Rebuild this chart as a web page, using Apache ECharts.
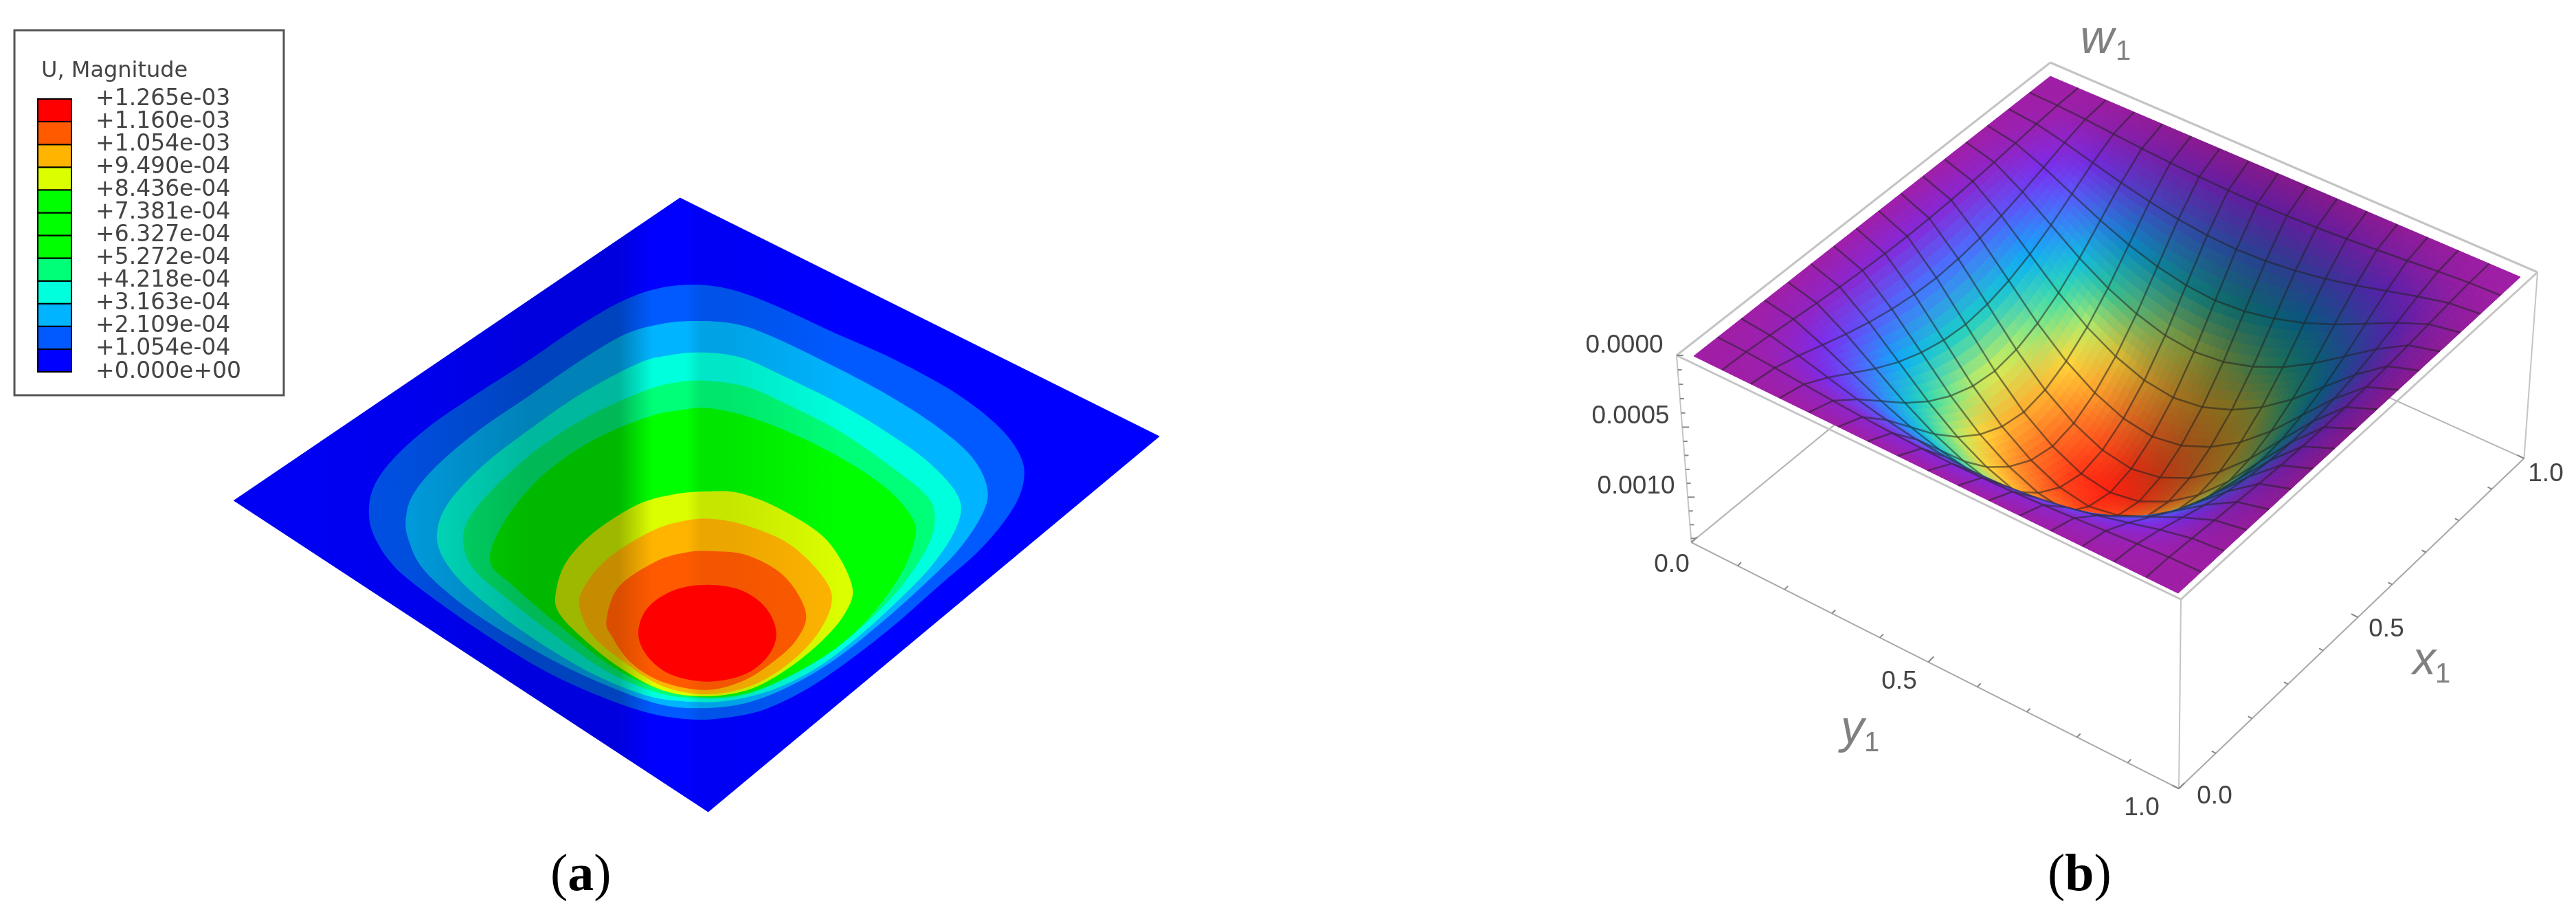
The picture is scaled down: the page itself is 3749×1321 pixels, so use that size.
<!DOCTYPE html>
<html>
<head>
<meta charset="utf-8">
<script src="https://cdn.jsdelivr.net/npm/echarts@6/dist/echarts.min.js"></script>
<style>
  html, body { margin: 0; padding: 0; background: #fff; }
  #chart { width: 3749px; height: 1321px; }
</style>
</head>
<body>
<div id="chart"></div>
<script>
// Legend of panel (a)
const legendLabels = ['+0.000e+00', '+1.054e-04', '+2.109e-04', '+3.163e-04', '+4.218e-04', '+5.272e-04',
  '+6.327e-04', '+7.381e-04', '+8.436e-04', '+9.490e-04', '+1.054e-03', '+1.160e-03', '+1.265e-03'];
const legendColors = ['#0000ff', '#005aff', '#00b4ff', '#00ffdc', '#00ff78', '#00ff00',
  '#00ff00', '#00ff00', '#dcff00', '#ffb400', '#ff5a00', '#ff0000'];

// Panel (a): plate outline and contour bands in view units
const plateOutline = [[750, 45], [1532, 612], [796, 1505], [22, 765]];
const contourBlue = [[770, 252], [830, 262], [900, 298], [1000, 365], [1100, 430], [1200, 510], [1270, 590], [1305, 660], [1310, 720], [1290, 790], [1240, 880], [1170, 970], [1100, 1060], [1030, 1140], [960, 1210], [890, 1260], [830, 1280], [770, 1285], [700, 1270], [620, 1230], [530, 1170], [440, 1090], [360, 1010], [290, 930], [255, 860], [243, 800], [250, 735], [280, 670], [340, 590], [420, 510], [500, 435], [580, 355], [650, 295], [710, 262]];
const contourSky = [[775, 338], [840, 345], [900, 375], [1000, 445], [1090, 515], [1170, 590], [1225, 660], [1250, 730], [1245, 790], [1205, 880], [1140, 975], [1070, 1065], [1000, 1145], [930, 1205], [860, 1245], [790, 1258], [720, 1250], [640, 1210], [550, 1150], [460, 1075], [385, 1000], [330, 925], [308, 860], [303, 810], [315, 750], [355, 680], [420, 600], [510, 510], [590, 430], [660, 370], [720, 345]];
const contourCyan = [[785, 413], [850, 425], [920, 470], [1010, 535], [1090, 605], [1160, 680], [1205, 760], [1200, 830], [1160, 920], [1100, 1010], [1035, 1095], [970, 1165], [900, 1215], [830, 1240], [770, 1243], [700, 1230], [620, 1185], [540, 1120], [460, 1040], [395, 960], [360, 890], [355, 830], [375, 765], [430, 680], [510, 590], [590, 510], [680, 440], [730, 420]];
const contourSpring = [[790, 480], [860, 495], [930, 540], [1010, 600], [1090, 680], [1150, 750], [1165, 800], [1155, 870], [1110, 970], [1050, 1060], [990, 1130], [920, 1190], [850, 1228], [780, 1235], [710, 1220], [630, 1170], [550, 1090], [470, 1000], [415, 930], [397, 870], [405, 810], [450, 730], [520, 640], [600, 565], [690, 505], [740, 485]];
const contourGreen = [[795, 545], [860, 565], [940, 610], [1020, 670], [1090, 740], [1130, 810], [1132, 860], [1110, 940], [1060, 1040], [1000, 1120], [930, 1180], [860, 1222], [790, 1232], [720, 1215], [640, 1160], [560, 1070], [480, 970], [440, 905], [470, 800], [530, 700], [610, 620], [700, 565], [750, 550]];
const contourYellow = [[795, 743], [850, 748], [920, 790], [990, 860], [1030, 965], [1020, 1030], [980, 1100], [920, 1170], [860, 1215], [790, 1230], [720, 1215], [650, 1160], [590, 1090], [552, 1030], [548, 980], [565, 910], [610, 840], [680, 775], [740, 750]];
const contourAmber = [[800, 808], [860, 825], [930, 870], [985, 950], [997, 1010], [970, 1090], [920, 1160], [860, 1208], [790, 1225], [720, 1205], [660, 1150], [610, 1090], [588, 1030], [590, 980], [630, 905], [700, 840], [750, 815]];
const contourOrange = [[800, 885], [860, 895], [920, 945], [955, 1030], [940, 1095], [900, 1150], [850, 1195], [790, 1215], [720, 1195], [670, 1150], [640, 1090], [630, 1050], [650, 970], [710, 910], [760, 888]];
const contourRed = [[795, 965], [850, 978], [890, 1020], [907, 1080], [893, 1135], [855, 1178], [795, 1195], [735, 1178], [697, 1135], [682, 1080], [697, 1020], [740, 978]];

// strength: how much of the lighting stripe shows on the band
const plateBands = [
  { points: plateOutline, color: '#0000ff', strength: 0.45 },
  { points: contourBlue, color: '#005aff', strength: 0.9 },
  { points: contourSky, color: '#00b4ff', strength: 1 },
  { points: contourCyan, color: '#00ffdc', strength: 1 },
  { points: contourSpring, color: '#00ff78', strength: 1 },
  { points: contourGreen, color: '#00ff00', strength: 1 },
  { points: contourYellow, color: '#dcff00', strength: 1 },
  { points: contourAmber, color: '#ffb400', strength: 0.8 },
  { points: contourOrange, color: '#ff5a00', strength: 0.5 },
  { points: contourRed, color: '#ff0000', strength: 0 }
];

// Panel (b): w1 at the mesh nodes in units of 1e-5, rows are x1 = 0..1, columns are y1 = 0..1
const wGrid = [
  [0, 0, 0, 0, 0, 0, 0, 0, 0, 0, 0, 0, 0, 0, 0, 0, 0],
  [0, 0.6, 2, 3.7, 5.3, 6.7, 7.8, 8.5, 8.8, 8.5, 7.8, 6.7, 5.3, 3.7, 2, 0.6, 0],
  [0, 2, 6.6, 12.1, 17.5, 22.1, 25.6, 27.9, 28.8, 27.9, 25.6, 22.1, 17.5, 12.1, 6.6, 2, 0],
  [0, 3.7, 12.1, 22.1, 32, 40.4, 46.7, 50.9, 52.5, 50.9, 46.7, 40.4, 32, 22.1, 12.1, 3.7, 0],
  [0, 5.3, 17.5, 32, 46.5, 58.7, 67.9, 74, 76.3, 74, 67.9, 58.7, 46.5, 32, 17.5, 5.3, 0],
  [0, 6.7, 22.1, 40.4, 58.7, 74.1, 85.7, 93.4, 96.3, 93.4, 85.7, 74.1, 58.7, 40.4, 22.1, 6.7, 0],
  [0, 7.8, 25.6, 46.7, 67.9, 85.7, 99, 107.9, 111.3, 107.9, 99, 85.7, 67.9, 46.7, 25.6, 7.8, 0],
  [0, 8.5, 27.9, 50.9, 74, 93.4, 107.9, 117.6, 121.3, 117.6, 107.9, 93.4, 74, 50.9, 27.9, 8.5, 0],
  [0, 8.8, 28.8, 52.5, 76.3, 96.3, 111.3, 121.3, 125, 121.3, 111.3, 96.3, 76.3, 52.5, 28.8, 8.8, 0],
  [0, 8.5, 27.9, 50.9, 74, 93.4, 107.9, 117.6, 121.3, 117.6, 107.9, 93.4, 74, 50.9, 27.9, 8.5, 0],
  [0, 7.8, 25.6, 46.7, 67.9, 85.7, 99, 107.9, 111.3, 107.9, 99, 85.7, 67.9, 46.7, 25.6, 7.8, 0],
  [0, 6.7, 22.1, 40.4, 58.7, 74.1, 85.7, 93.4, 96.3, 93.4, 85.7, 74.1, 58.7, 40.4, 22.1, 6.7, 0],
  [0, 5.3, 17.5, 32, 46.5, 58.7, 67.9, 74, 76.3, 74, 67.9, 58.7, 46.5, 32, 17.5, 5.3, 0],
  [0, 3.7, 12.1, 22.1, 32, 40.4, 46.7, 50.9, 52.5, 50.9, 46.7, 40.4, 32, 22.1, 12.1, 3.7, 0],
  [0, 2, 6.6, 12.1, 17.5, 22.1, 25.6, 27.9, 28.8, 27.9, 25.6, 22.1, 17.5, 12.1, 6.6, 2, 0],
  [0, 0.6, 2, 3.7, 5.3, 6.7, 7.8, 8.5, 8.8, 8.5, 7.8, 6.7, 5.3, 3.7, 2, 0.6, 0],
  [0, 0, 0, 0, 0, 0, 0, 0, 0, 0, 0, 0, 0, 0, 0, 0, 0]
];
const wMax = 125;
const wBoxBottom = 133;
const tickValues = [0, 0.1, 0.2, 0.3, 0.4, 0.5, 0.6, 0.7, 0.8, 0.9, 1];
const wTickValues = [0, 10, 20, 30, 40, 50, 60, 70, 80, 90, 100, 110, 120, 130];

// Colour ramp of the surface: w / wMax -> rgb
const ramp = [
  [0, [160, 30, 166]], [0.1, [122, 44, 240]], [0.22, [74, 112, 255]], [0.33, [8, 176, 248]],
  [0.45, [32, 216, 184]], [0.55, [128, 232, 136]], [0.64, [255, 240, 64]], [0.76, [255, 176, 48]],
  [0.9, [255, 96, 32]], [1, [255, 32, 16]]
];

function rampColor(t) {
  for (let n = 1; n < ramp.length; n++) {
    if (t <= ramp[n][0]) {
      const f = (t - ramp[n - 1][0]) / (ramp[n][0] - ramp[n - 1][0]);
      return ramp[n][1].map((c, k) => ramp[n - 1][1][k] + (c - ramp[n - 1][1][k]) * f);
    }
  }
  return ramp[ramp.length - 1][1];
}

// Perspective of the 3D box: corners given as (0,0), (1,0), (1,1), (0,1) in (x1, y1)
const vanish = [3090, 8739];
const kPerW = 0.03423 / wBoxBottom;

function makeProjector(p) {
  const [x0, y0] = p[0], [x1, y1] = p[1], [x2, y2] = p[2], [x3, y3] = p[3];
  const dx1 = x1 - x2, dx2 = x3 - x2, sx = x0 - x1 + x2 - x3;
  const dy1 = y1 - y2, dy2 = y3 - y2, sy = y0 - y1 + y2 - y3;
  const den = dx1 * dy2 - dx2 * dy1;
  const g = (sx * dy2 - dx2 * sy) / den, h = (dx1 * sy - sx * dy1) / den;
  return function (u, v, w) {
    const k = kPerW * w;
    const W = g * u + h * v + 1;
    const X = (x1 - x0 + g * x1) * u + (x3 - x0 + h * x3) * v + x0;
    const Y = (y1 - y0 + g * y1) * u + (y3 - y0 + h * y3) * v + y0;
    return [(X + k * vanish[0]) / (W + k), (Y + k * vanish[1]) / (W + k)];
  };
}

const surfacePoint = makeProjector([[2465, 518], [2984, 111], [3668, 403], [3170, 863]]);
const boxPoint = makeProjector([[2440, 517], [2984, 91], [3693, 396], [3174, 872]]);
const CELLS = wGrid.length - 1;

function nodeColor(i, j) {
  const up = wGrid[Math.min(i + 1, CELLS)][j], dn = wGrid[Math.max(i - 1, 0)][j];
  const rt = wGrid[i][Math.min(j + 1, CELLS)], lf = wGrid[i][Math.max(j - 1, 0)];
  // slope towards the right of the picture, the right wall sits in shadow
  const g = ((up - dn) / (i > 0 && i < CELLS ? 2 : 1) + (rt - lf) / (j > 0 && j < CELLS ? 2 : 1)) / 26;
  const shade = 1 - 0.5 * Math.min(1, Math.max(0, -g));
  return rampColor(wGrid[i][j] / wMax).map(c => c * shade);
}

// painter's order, far corner first
const surfaceCells = [];
for (let i = CELLS - 1; i >= 0; i--) {
  for (let j = 0; j < CELLS; j++) {
    surfaceCells.push([i, j]);
  }
}

function renderSurfaceCell(params, api) {
  const i = api.value(0), j = api.value(1);
  const nodes = [[i, j], [i + 1, j], [i + 1, j + 1], [i, j + 1]];
  const pts = nodes.map(n => api.coord(surfacePoint(n[0] / CELLS, n[1] / CELLS, wGrid[n[0]][n[1]])));
  const cols = nodes.map(n => nodeColor(n[0], n[1]));
  const children = [];
  const SUB = 5;
  const mix = (vals, a, b) => vals[0].map((_, k) =>
    vals[0][k] * (1 - a) * (1 - b) + vals[1][k] * a * (1 - b) + vals[2][k] * a * b + vals[3][k] * (1 - a) * b);
  for (let a = SUB - 1; a >= 0; a--) {
    for (let b = 0; b < SUB; b++) {
      const a0 = a / SUB, a1 = (a + 1) / SUB, b0 = b / SUB, b1 = (b + 1) / SUB;
      const c = mix(cols, (a0 + a1) / 2, (b0 + b1) / 2).map(Math.round);
      const fill = `rgb(${c[0]},${c[1]},${c[2]})`;
      children.push({
        type: 'polygon',
        shape: { points: [mix(pts, a0, b0), mix(pts, a1, b0), mix(pts, a1, b1), mix(pts, a0, b1)] },
        style: { fill: fill, stroke: fill, lineWidth: 1 }
      });
    }
  }
  // mesh lines on the two far sides, the near ones belong to the cells drawn later
  const mesh = { stroke: 'rgba(35,35,35,0.55)', lineWidth: 2.5, fill: 'none' };
  if (i + 1 < CELLS) {
    children.push({ type: 'polyline', shape: { points: [pts[1], pts[2]] }, style: mesh });
  }
  if (j > 0) {
    children.push({ type: 'polyline', shape: { points: [pts[0], pts[1]] }, style: mesh });
  }
  return { type: 'group', children: children };
}

// Box lines of panel (b), as [x0, y0, x1, y1, width, colour]
const backLines = [];
const frontLines = [];
function addLine(list, a, b, width, color) {
  list.push([a[0], a[1], b[0], b[1], width, color]);
}
const boxGrey = '#c4c4c4';
addLine(backLines, boxPoint(0, 0, wBoxBottom), boxPoint(1, 0, wBoxBottom), 2, '#b4b4b4');
addLine(backLines, boxPoint(1, 1, wBoxBottom), boxPoint(1, 0, wBoxBottom), 2, '#b4b4b4');
[[0, 0, 1, 0], [1, 0, 1, 1], [1, 1, 0, 1], [0, 1, 0, 0]].forEach(e => {
  addLine(frontLines, boxPoint(e[0], e[1], 0), boxPoint(e[2], e[3], 0), 3, boxGrey);
});
[[0, 0], [0, 1], [1, 1]].forEach(c => {
  addLine(frontLines, boxPoint(c[0], c[1], 0), boxPoint(c[0], c[1], wBoxBottom), 2, boxGrey);
});
addLine(frontLines, boxPoint(0, 0, wBoxBottom), boxPoint(0, 1, wBoxBottom), 2, '#a8a8a8');
addLine(frontLines, boxPoint(0, 1, wBoxBottom), boxPoint(1, 1, wBoxBottom), 2, '#a8a8a8');
tickValues.forEach((t, n) => {
  const len = n % 5 === 0 ? 1.6 : 1;
  const a = boxPoint(0, t, wBoxBottom), b = boxPoint(t, 1, wBoxBottom);
  addLine(frontLines, a, [a[0] + 5 * len, a[1] - 5 * len], 2, '#888888');
  addLine(frontLines, b, [b[0] - 6 * len, b[1] - 3 * len], 2, '#888888');
});
wTickValues.forEach((t, n) => {
  const a = boxPoint(0, 0, t);
  addLine(frontLines, a, [a[0] + (n % 5 === 0 ? 10 : 6), a[1]], 2, '#888888');
});

const lineColors = { back: backLines.map(l => l[5]), front: frontLines.map(l => l[5]) };
function renderLine(params, api) {
  const a = api.coord([api.value(0), api.value(1)]);
  const b = api.coord([api.value(2), api.value(3)]);
  return {
    type: 'line',
    shape: { x1: a[0], y1: a[1], x2: b[0], y2: b[1] },
    style: { stroke: lineColors[params.seriesName][params.dataIndex], lineWidth: api.value(4) }
  };
}

// Tick labels and axis names of panel (b)
const tickFont = '37px "Liberation Sans"';
const nameFont = 'italic 68px "Liberation Sans"';
const subFont = '40px "Liberation Sans"';
const surfaceTexts = [
  ['0.0000', 2364, 503, tickFont, '#444'], ['0.0005', 2373, 606, tickFont, '#444'], ['0.0010', 2381, 708, tickFont, '#444'],
  ['0.0', 2433, 822, tickFont, '#444'], ['0.5', 2764, 992, tickFont, '#444'], ['1.0', 3117, 1176, tickFont, '#444'],
  ['0.0', 3223, 1159, tickFont, '#444'], ['0.5', 3473, 916, tickFont, '#444'], ['1.0', 3705, 690, tickFont, '#444'],
  ['w', 3052, 58, nameFont, '#808080'], ['1', 3090, 76, subFont, '#808080'],
  ['x', 3528, 962, nameFont, '#808080'], ['1', 3555, 982, subFont, '#808080'],
  ['y', 2696, 1062, nameFont, '#808080'], ['1', 2724, 1082, subFont, '#808080']
];

// lighting across panel (a): [position across the view, brightness]
const plateShade = [[0, 0.92], [0.2, 0.85], [0.32, 0.72], [0.415, 0.72], [0.45, 1], [0.485, 1], [0.5, 0.9], [0.53, 0.9], [0.65, 1], [1, 1]];

// round the read contour points into a closed curve for drawing
function roundedOutline(points) {
  const out = [];
  const n = points.length;
  for (let i = 0; i < n; i++) {
    const p0 = points[(i + n - 1) % n], p1 = points[i], p2 = points[(i + 1) % n], p3 = points[(i + 2) % n];
    for (let s = 0; s < 8; s++) {
      const t = s / 8, t2 = t * t, t3 = t2 * t;
      out.push([0, 1].map(k => 0.5 * (2 * p1[k] + (p2[k] - p0[k]) * t +
        (2 * p0[k] - 5 * p1[k] + 4 * p2[k] - p3[k]) * t2 + (3 * p1[k] - p0[k] - 3 * p2[k] + p3[k]) * t3)));
    }
  }
  return out;
}

function renderPlateBand(params, api) {
  const band = plateBands[params.dataIndex];
  const base = echarts.color.parse(band.color);
  const stops = plateShade.map(s => {
    const f = 1 - (1 - s[1]) * band.strength;
    return {
      offset: s[0],
      color: `rgb(${Math.round(base[0] * f)},${Math.round(base[1] * f)},${Math.round(base[2] * f)})`
    };
  });
  const outline = params.dataIndex === 0 ? band.points : roundedOutline(band.points);
  return {
    type: 'polygon',
    shape: { points: outline.map(p => api.coord(p)) },
    style: { fill: new echarts.graphic.LinearGradient(320, 0, 1720, 0, stops, true) }
  };
}

function renderLegendCell(params, api) {
  const a = api.coord([0, api.value(0) + 1]);
  const b = api.coord([1, api.value(0)]);
  return {
    type: 'rect',
    shape: { x: a[0], y: a[1], width: b[0] - a[0], height: b[1] - a[1] },
    style: { fill: legendColors[params.dataIndex], stroke: '#000', lineWidth: 2 }
  };
}

const captionRich = {
  n: { fontFamily: 'Liberation Serif', fontSize: 76, fontWeight: 'normal', color: '#000' },
  b: { fontFamily: 'Liberation Serif', fontSize: 76, fontWeight: 'bold', color: '#000' }
};
const hiddenValue = { type: 'value', show: false };

const chart = echarts.init(document.getElementById('chart'), null, { renderer: 'canvas' });
chart.setOption({
  animation: false,
  backgroundColor: '#fff',
  title: [
    {
      text: 'U, Magnitude', left: 55, top: 83,
      textStyle: { fontFamily: 'DejaVu Sans', fontSize: 32, fontWeight: 'normal', color: '#444' }
    },
    { text: '{n|(}{b|a}{n|)}', left: 796, top: 1232, textStyle: { rich: captionRich } },
    { text: '{n|(}{b|b}{n|)}', left: 2975, top: 1232, textStyle: { rich: captionRich } }
  ],
  graphic: [{
    type: 'rect',
    shape: { x: 21, y: 44, width: 392, height: 531 },
    style: { fill: 'none', stroke: '#555', lineWidth: 3 }
  }],
  grid: [
    { left: 320, top: 260, width: 1400, height: 960 },
    { left: 55, top: 144, width: 49, height: 397 },
    { left: 0, top: 0, width: 3749, height: 1321 }
  ],
  xAxis: [
    { ...hiddenValue, gridIndex: 0, min: 0, max: 1568 },
    { ...hiddenValue, gridIndex: 1, min: 0, max: 1 },
    { ...hiddenValue, gridIndex: 2, min: 0, max: 3749 }
  ],
  yAxis: [
    { ...hiddenValue, gridIndex: 0, min: 0, max: 1568, inverse: true },
    {
      type: 'value', gridIndex: 1, min: 0, max: 12, interval: 1, position: 'right',
      splitLine: { show: false },
      axisLine: { show: true, lineStyle: { color: '#000', width: 2 } },
      axisTick: { show: true, length: 16, lineStyle: { color: '#000', width: 2 } },
      axisLabel: {
        margin: 35, color: '#444', fontFamily: 'DejaVu Sans', fontSize: 33,
        formatter: value => legendLabels[value]
      }
    },
    { ...hiddenValue, gridIndex: 2, min: 0, max: 1321, inverse: true }
  ],
  series: [
    {
      type: 'custom', name: 'plate', xAxisIndex: 0, yAxisIndex: 0, silent: true, clip: false,
      data: plateBands.map((b, n) => [n, n]), renderItem: renderPlateBand
    },
    {
      type: 'custom', name: 'legend', xAxisIndex: 1, yAxisIndex: 1, silent: true,
      encode: { y: 0 },
      data: legendColors.map((c, n) => [n]), renderItem: renderLegendCell
    },
    {
      type: 'custom', name: 'back', xAxisIndex: 2, yAxisIndex: 2, silent: true,
      data: backLines.map(l => l.slice(0, 5)), renderItem: renderLine
    },
    {
      type: 'custom', name: 'surface', xAxisIndex: 2, yAxisIndex: 2, silent: true, progressive: 0,
      data: surfaceCells, renderItem: renderSurfaceCell
    },
    {
      type: 'custom', name: 'front', xAxisIndex: 2, yAxisIndex: 2, silent: true,
      data: frontLines.map(l => l.slice(0, 5)), renderItem: renderLine
    },
    {
      type: 'custom', name: 'texts', xAxisIndex: 2, yAxisIndex: 2, silent: true,
      data: surfaceTexts.map(t => [t[1], t[2]]),
      renderItem: (params, api) => {
        const t = surfaceTexts[params.dataIndex];
        const p = api.coord([t[1], t[2]]);
        return {
          type: 'text', x: p[0], y: p[1],
          style: { text: t[0], font: t[3], fill: t[4], align: 'center', verticalAlign: 'middle' }
        };
      }
    }
  ]
});
</script>
</body>
</html>
